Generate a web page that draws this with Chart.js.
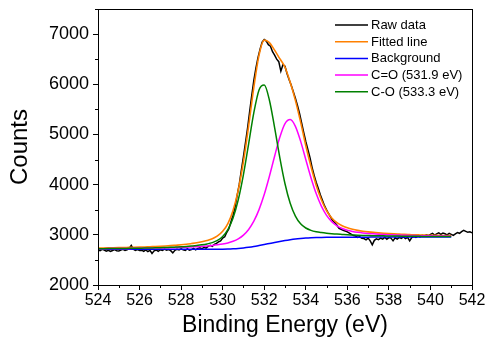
<!DOCTYPE html>
<html>
<head>
<meta charset="utf-8">
<script src="https://cdn.jsdelivr.net/npm/chart.js@4.4.1/dist/chart.umd.min.js"></script>
<style>
  html, body { margin: 0; padding: 0; background: #fff; }
</style>
</head>
<body>
<canvas id="xps" width="488" height="347"></canvas>
<script>
// O 1s spectrum

// raw counts, 524.0 .. 542.0 eV every 0.1 eV
const rawStart = 524;
const rawStep = 0.1;
const rawCounts = [
  2700, 2685, 2710, 2695, 2672, 2690, 2668, 2688, 2705, 2680,
  2676, 2698, 2712, 2690, 2702, 2730, 2790, 2715, 2690, 2705,
  2686, 2694, 2672, 2700, 2665, 2690, 2628, 2680, 2698, 2670,
  2702, 2688, 2715, 2693, 2706, 2684, 2640, 2692, 2712, 2698,
  2722, 2700, 2690, 2718, 2694, 2705, 2728, 2702, 2730, 2740,
  2722, 2750, 2735, 2768, 2790, 2772, 2810, 2830, 2858, 2880,
  2935, 2960, 3050, 3120, 3260, 3390, 3560, 3790, 4010, 4290,
  4560, 4840, 5130, 5460, 5780, 6080, 6320, 6530, 6700, 6840,
  6890, 6860, 6790, 6760, 6650, 6580, 6500, 6450, 6260, 6390,
  6360, 6210, 6090, 5980, 5850, 5720, 5580, 5420, 5230, 5040,
  4860, 4700, 4540, 4350, 4190, 4050, 3930, 3800, 3690, 3580,
  3500, 3420, 3350, 3280, 3240, 3190, 3130, 3110, 3090, 3075,
  3060, 3035, 3010, 2985, 2975, 2950, 2960, 2930, 2925, 2900,
  2935, 2880, 2800, 2890, 2920, 2905, 2935, 2915, 2950, 2910,
  2945, 2935, 2880, 2940, 2915, 2950, 2930, 2960, 2925, 2950,
  2880, 2945, 2965, 2950, 2975, 2960, 2990, 2975, 3000, 2985,
  3010, 3030, 2995, 3020, 3040, 3010, 3035, 3020, 3000, 3030,
  3010, 2990, 3020, 3045, 3030, 3065, 3090, 3070, 3050, 3060,
  3040
];

// fit curves, 524.00 .. 541.00 eV every 0.25 eV
const fitStart = 524;
const fitStep = 0.25;
const fittedLine = [
  2736, 2738, 2740, 2742, 2744, 2746, 2749, 2751, 2754, 2758, 2763, 2767,
  2772, 2778, 2785, 2793, 2801, 2812, 2826, 2841, 2861, 2886, 2921,
  2977, 3069, 3225, 3486, 3890, 4457, 5170, 5939, 6580, 6880, 6830, 6680,
  6510, 6340, 6040, 5680, 5250, 4780, 4360, 3990, 3700, 3480, 3335, 3242,
  3181, 3140, 3111, 3089, 3072, 3059,
  3048, 3039, 3031, 3024, 3018, 3013, 3008, 3004, 3000, 2997, 2994, 2992,
  2990, 2987, 2986, 2983
];
const backgroundLine = [
  2710, 2710, 2710, 2710, 2710, 2710, 2710, 2710, 2710, 2710, 2710, 2710,
  2710, 2710, 2710, 2710, 2710, 2710, 2710, 2710, 2710, 2710, 2710,
  2711, 2713, 2716, 2721, 2728, 2738, 2751, 2767, 2786, 2806, 2827, 2848,
  2868, 2886, 2902, 2916, 2927, 2936, 2942, 2946, 2949, 2951, 2952, 2953,
  2954, 2954, 2954, 2954, 2954, 2954,
  2955, 2955, 2955, 2955, 2955, 2955, 2955, 2955, 2955, 2955, 2955, 2955,
  2955, 2955, 2955, 2955
];
const peakCdO = [
  2723, 2724, 2725, 2726, 2727, 2728, 2729, 2730, 2731, 2733, 2735, 2737,
  2739, 2741, 2744, 2747, 2750, 2754, 2759, 2764, 2771, 2778, 2787,
  2800, 2816, 2838, 2871, 2920, 2994, 3107, 3271, 3502, 3802, 4167, 4566,
  4943, 5216, 5298, 5162, 4867, 4501, 4138, 3822, 3573, 3389, 3263, 3180,
  3127, 3092, 3068, 3051, 3038, 3028,
  3020, 3013, 3007, 3002, 2998, 2994, 2991, 2988, 2985, 2983, 2981, 2979,
  2978, 2976, 2975, 2973
];
const peakCO = [
  2723, 2724, 2725, 2726, 2727, 2728, 2730, 2731, 2733, 2735, 2738, 2740,
  2743, 2747, 2751, 2756, 2761, 2768, 2777, 2787, 2800, 2818, 2844,
  2888, 2966, 3103, 3336, 3698, 4201, 4814, 5435, 5888, 5984, 5682, 5136,
  4539, 4018, 3629, 3373, 3220, 3136, 3089, 3062, 3045, 3032, 3022, 3014,
  3008, 3002, 2997, 2992, 2988, 2985,
  2983, 2981, 2979, 2977, 2975, 2974, 2972, 2971, 2970, 2969, 2968, 2968,
  2967, 2966, 2966, 2965
];

const seriesNames = ['Raw data', 'Fitted line', 'Background', 'C=O (531.9 eV)', 'C-O (533.3 eV)'];
const seriesColors = ['#000000', '#FF8000', '#0000FF', '#FF00FF', '#008000'];

const xMajorTicks = [524, 526, 528, 530, 532, 534, 536, 538, 540, 542];
const xMinorTicks = [525, 527, 529, 531, 533, 535, 537, 539, 541];
const yMajorTicks = [2000, 3000, 4000, 5000, 6000, 7000];
const yMinorTicks = [2500, 3500, 4500, 5500, 6500, 7500];

const FONT = '"Liberation Sans", Arial, Helvetica, sans-serif';

function toPoints(values, start, step) {
  return values.map((v, i) => ({ x: +(start + i * step).toFixed(2), y: v }));
}

// frame box, minor ticks and the in-plot legend
const framePlugin = {
  id: 'frame',
  afterDraw(chart) {
    const { ctx, chartArea: a, scales: { x, y } } = chart;
    ctx.save();
    ctx.strokeStyle = '#000';
    ctx.lineWidth = 1;
    ctx.strokeRect(Math.round(a.left) + 0.5, Math.round(a.top) + 0.5,
      Math.round(a.right - a.left), Math.round(a.bottom - a.top));

    ctx.beginPath();
    xMinorTicks.forEach(v => {
      const px = Math.round(x.getPixelForValue(v)) + 0.5;
      ctx.moveTo(px, a.bottom);
      ctx.lineTo(px, a.bottom + 3);
    });
    yMinorTicks.forEach(v => {
      const py = Math.round(y.getPixelForValue(v)) + 0.5;
      ctx.moveTo(a.left, py);
      ctx.lineTo(a.left - 3, py);
    });
    ctx.stroke();

    ctx.font = '13px ' + FONT;
    ctx.textBaseline = 'middle';
    ctx.textAlign = 'left';
    chart.data.datasets.forEach((ds, i) => {
      const ly = 25 + i * 16.7;
      ctx.beginPath();
      ctx.strokeStyle = ds.borderColor;
      ctx.lineWidth = 1.5;
      ctx.moveTo(335, ly);
      ctx.lineTo(368, ly);
      ctx.stroke();
      ctx.fillStyle = '#000';
      ctx.fillText(ds.label, 371, ly + 0.5);
    });
    ctx.restore();
  }
};

const fitPoints = [fittedLine, backgroundLine, peakCdO, peakCO].map(a => toPoints(a, fitStart, fitStep));

const ctx = document.getElementById('xps').getContext('2d');
new Chart(ctx, {
  type: 'line',
  data: {
    datasets: [
      { label: seriesNames[0], data: toPoints(rawCounts, rawStart, rawStep), borderColor: seriesColors[0], borderWidth: 1.5, order: 5, tension: 0 },
      { label: seriesNames[1], data: fitPoints[0], borderColor: seriesColors[1], borderWidth: 1.6, order: 4, cubicInterpolationMode: 'monotone' },
      { label: seriesNames[2], data: fitPoints[1], borderColor: seriesColors[2], borderWidth: 1.5, order: 3, cubicInterpolationMode: 'monotone' },
      { label: seriesNames[3], data: fitPoints[2], borderColor: seriesColors[3], borderWidth: 1.5, order: 2, cubicInterpolationMode: 'monotone' },
      { label: seriesNames[4], data: fitPoints[3], borderColor: seriesColors[4], borderWidth: 1.5, order: 1, cubicInterpolationMode: 'monotone' }
    ]
  },
  options: {
    responsive: false,
    animation: false,
    devicePixelRatio: 1,
    parsing: true,
    elements: { point: { radius: 0 }, line: { fill: false } },
    layout: { padding: { left: 0, right: 16, top: 9, bottom: 0 } },
    plugins: { legend: { display: false }, tooltip: { enabled: false } },
    scales: {
      x: {
        type: 'linear',
        min: 524,
        max: 542,
        afterBuildTicks: s => { s.ticks = xMajorTicks.map(v => ({ value: v })); },
        afterFit: s => { s.height = 62; s.paddingLeft = 0; s.paddingRight = 0; },
        ticks: { color: '#000', font: { family: FONT, size: 16 }, padding: 1, maxRotation: 0, autoSkip: false, callback: v => String(v) },
        grid: { drawOnChartArea: false, tickLength: 5, color: '#000' },
        border: { color: '#000', width: 1 },
        title: { display: true, text: 'Binding Energy (eV)', color: '#000', font: { family: FONT, size: 23 }, padding: { top: 0, bottom: 8 } }
      },
      y: {
        type: 'linear',
        min: 2000,
        max: 7500,
        afterBuildTicks: s => { s.ticks = yMajorTicks.map(v => ({ value: v })); },
        afterFit: s => { s.width = 98; s.paddingTop = 0; s.paddingBottom = 0; },
        ticks: { color: '#000', font: { family: FONT, size: 18 }, padding: 4, callback: v => String(v) },
        grid: { drawOnChartArea: false, tickLength: 5, color: '#000' },
        border: { color: '#000', width: 1 },
        title: { display: true, text: 'Counts', color: '#000', font: { family: FONT, size: 24 }, padding: { top: 6, bottom: 0 } }
      }
    }
  },
  plugins: [framePlugin]
});
</script>
</body>
</html>
